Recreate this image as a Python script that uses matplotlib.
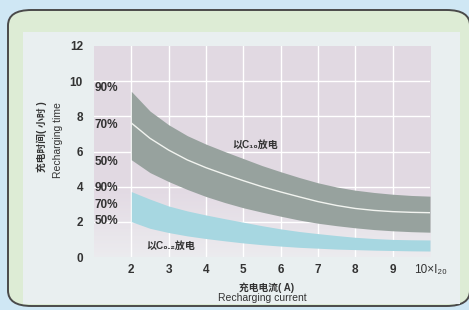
import numpy as np
import matplotlib.pyplot as plt
from matplotlib.patches import FancyBboxPatch, Rectangle

plt.rcParams['font.family'] = ['Liberation Sans', 'Noto Sans CJK SC', 'DejaVu Sans']

# 充电电流 (×I20)
current = [2, 2.5, 3, 3.5, 4, 4.5, 5, 5.5, 6, 6.5, 7, 7.5, 8, 8.5, 9, 9.5, 10]
# 以C10放电: 90% / 70% / 50%
c10_90 = [9.42, 8.3, 7.52, 6.9, 6.42, 6.0, 5.6, 5.2, 4.85, 4.52, 4.22,
          3.98, 3.8, 3.67, 3.57, 3.5, 3.46]
c10_70 = [7.62, 6.75, 6.08, 5.52, 5.08, 4.7, 4.34, 4.0, 3.7, 3.42, 3.15,
          2.93, 2.76, 2.65, 2.58, 2.54, 2.52]
c10_50 = [5.53, 4.8, 4.29, 3.84, 3.44, 3.1, 2.8, 2.55, 2.32, 2.1, 1.92,
          1.78, 1.66, 1.56, 1.49, 1.44, 1.41]
# 以C0.2放电: 90% / 50%
c02_90 = [3.72, 3.29, 2.9, 2.62, 2.39, 2.18, 1.98, 1.78, 1.6, 1.45, 1.33,
          1.22, 1.12, 1.05, 1.0, 0.98, 0.97]
c02_50 = [2.01, 1.63, 1.39, 1.2, 1.05, 0.92, 0.8, 0.7, 0.62, 0.55, 0.5,
          0.45, 0.42, 0.39, 0.37, 0.35, 0.34]

xticks = [2, 3, 4, 5, 6, 7, 8, 9, 10]
xticklabels = ['2', '3', '4', '5', '6', '7', '8', '9', '10×I₂₀']
yticks = [0, 2, 4, 6, 8, 10, 12]

fig = plt.figure(figsize=(4.69, 3.10), dpi=100)
fig.patch.set_facecolor('#cfe7f4')

# 外框
frame = FancyBboxPatch((8 / 469, 4 / 310), 462 / 469, 296 / 310,
                       boxstyle="round,pad=0,rounding_size=0.05",
                       transform=fig.transFigure, facecolor='#ddecd5',
                       edgecolor='#4a4a4a', linewidth=1.4, zorder=-2)
fig.patches.append(frame)
fig.patches.append(Rectangle((23 / 469, 6 / 310), 437 / 469, 272 / 310,
                             transform=fig.transFigure, facecolor='#e9eff0',
                             edgecolor='none', zorder=-1))

ax = fig.add_axes([94 / 469, 53 / 310, 336 / 469, 211 / 310])
ax.set_zorder(1)
ax.set_xlim(1, 10)
ax.set_ylim(0, 12)
ax.patch.set_alpha(0)

# 背景渐变
grad = np.linspace(0, 1, 100).reshape(-1, 1)
grad = np.clip(grad * 3, 0, 1)
c_low = np.array([0.925, 0.922, 0.935])
c_high = np.array([0.886, 0.851, 0.890])
img = c_low + (c_high - c_low) * grad[:, :, None]
ax.imshow(img, extent=[1, 10, 0, 12], origin='lower', aspect='auto', zorder=0)

for x in range(2, 10):
    ax.axvline(x, color='white', lw=1.0, zorder=1)
for y in range(2, 12, 2):
    ax.axhline(y, color='white', lw=1.0, zorder=1)

ax.fill_between(current, c10_50, c10_90, color='#97a29e', lw=0, zorder=2)
ax.plot(current, c10_70, color='#f2f4f0', lw=1.0, zorder=3)
ax.fill_between(current, c02_50, c02_90, color='#a7d7e1', lw=0, zorder=2)

for s in ax.spines.values():
    s.set_visible(False)
ax.set_xticks(xticks)
ax.set_xticklabels(xticklabels, fontsize=8.5, fontweight='bold', color='#333333')
ax.get_xticklabels()[-1].set_fontweight('normal')
ax.set_yticks(yticks)
ax.set_yticklabels([str(v) for v in yticks], fontsize=8.5, fontweight='bold', color='#333333')
ax.tick_params(axis='x', length=0, pad=5)
ax.tick_params(axis='y', length=0, pad=8)

for y, t in [(9.6, '90%'), (7.5, '70%'), (5.4, '50%'),
             (3.9, '90%'), (2.95, '70%'), (2.05, '50%')]:
    ax.text(1.33, y, t, fontsize=8.5, fontweight='bold', color='#333333',
            va='center', ha='center')

ax.text(5.32, 6.4, '以C₁₀放电', fontsize=7.2, fontweight='bold', color='#333333',
        ha='center', va='center')
ax.text(3.06, 0.62, '以C₀.₂放电', fontsize=7.2, fontweight='bold', color='#333333',
        ha='center', va='center')

fig.text(267 / 469, 1 - 288 / 310, '充电电流( A)', fontsize=7, fontweight='bold',
         color='#333333', ha='center', va='center')
fig.text(262 / 469, 1 - 298 / 310, 'Recharging current', fontsize=7.5,
         color='#333333', ha='center', va='center')
fig.text(42 / 469, 1 - 137 / 310, '充电时间( 小时 )', fontsize=7, fontweight='bold',
         color='#333333', ha='center', va='center', rotation=90)
fig.text(58 / 469, 1 - 140 / 310, 'Recharging time', fontsize=7.5,
         color='#333333', ha='center', va='center', rotation=90)

fig.savefig('out.png', dpi=100, facecolor=fig.get_facecolor())
